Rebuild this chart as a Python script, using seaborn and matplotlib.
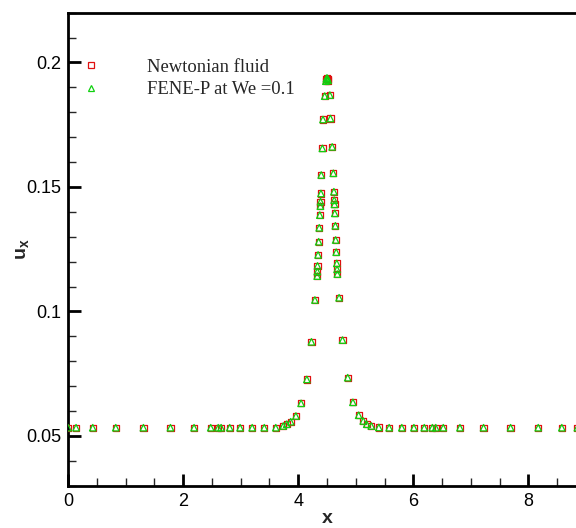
import numpy as np
import pandas as pd
import matplotlib
matplotlib.use("Agg")
import matplotlib.pyplot as plt
from matplotlib.lines import Line2D
from matplotlib.ticker import MultipleLocator
import seaborn as sns

# ---- data ----
x_newt = [0.00, 0.14, 0.43, 0.83, 1.31, 1.78, 2.19, 2.48, 2.61, 2.66, 2.81, 2.99,
          3.20, 3.41, 3.61, 3.74, 3.80, 3.87, 3.96, 4.05, 4.15, 4.23, 4.29,
          4.330, 4.332, 4.335, 4.345, 4.355, 4.365, 4.375, 4.385, 4.388, 4.395,
          4.40, 4.42, 4.43, 4.46, 4.48, 4.49, 4.50, 4.51, 4.52,
          4.55, 4.56, 4.59, 4.61, 4.62, 4.625, 4.63, 4.635, 4.645, 4.65, 4.66,
          4.67, 4.675, 4.68, 4.71, 4.77, 4.86, 4.95, 5.05, 5.13, 5.19, 5.27,
          5.40, 5.58, 5.80, 6.01, 6.19, 6.33, 6.39, 6.52, 6.81, 7.22, 7.69,
          8.17, 8.58, 8.85]
u_newt = [0.0533, 0.0533, 0.0533, 0.0533, 0.0533, 0.0533, 0.0533, 0.0533, 0.0533,
          0.0533, 0.0533, 0.0533, 0.0533, 0.0533, 0.0533, 0.0540, 0.0547, 0.0557,
          0.0580, 0.0631, 0.0727, 0.0878, 0.1046,
          0.1142, 0.1160, 0.1183, 0.1227, 0.1280, 0.1336, 0.1387, 0.1423, 0.1441,
          0.1474, 0.1548, 0.1655, 0.1771, 0.1865, 0.1925, 0.1935, 0.1938, 0.1935,
          0.1928,
          0.1869, 0.1775, 0.1661, 0.1555, 0.1481, 0.1447, 0.1430, 0.1394, 0.1344,
          0.1287, 0.1238, 0.1193, 0.1169, 0.1150, 0.1055, 0.0885, 0.0734, 0.0635,
          0.0583, 0.0560, 0.0547, 0.0540, 0.0534, 0.0533, 0.0533, 0.0533, 0.0533,
          0.0533, 0.0533, 0.0533, 0.0533, 0.0533, 0.0533, 0.0533, 0.0533, 0.0533]
x_fene = list(x_newt)
u_fene = list(u_newt)

labels = ["Newtonian fluid", "FENE-P at We =0.1"]
x_ticks = [0, 2, 4, 6, 8]
y_ticks = [0.05, 0.1, 0.15, 0.2]
y_tick_labels = ["0.05", "0.1", "0.15", "0.2"]

df_n = pd.DataFrame({"x": x_newt, "u": u_newt})
df_f = pd.DataFrame({"x": x_fene, "u": u_fene})

sns.set_theme(style="ticks")
plt.rcParams["font.family"] = ["Liberation Sans", "DejaVu Sans"]
plt.rcParams["mathtext.fontset"] = "custom"
plt.rcParams["mathtext.bf"] = "Liberation Sans:bold"
plt.rcParams["mathtext.rm"] = "Liberation Sans"
plt.rcParams["mathtext.it"] = "Liberation Sans:italic"

fig = plt.figure(figsize=(5.76, 5.28), dpi=100)
ax = fig.add_axes([68/576, 1 - 485.7/528, 518/576, (485.7 - 12.7)/528])

red = "#e01010"
green = "#10d010"
sns.scatterplot(data=df_n, x="x", y="u", marker="s", s=20, fc="none",
                ec=red, linewidth=0.9, ax=ax, zorder=3)
sns.scatterplot(data=df_f, x="x", y="u", marker="^", s=22, fc="none",
                ec=green, linewidth=0.9, ax=ax, zorder=4)

ax.set_xlim(0, 9)
ax.set_ylim(0.03, 0.22)
ax.set_xticks(x_ticks)
ax.set_xticklabels([str(t) for t in x_ticks])
ax.set_yticks(y_ticks)
ax.set_yticklabels(y_tick_labels)
ax.xaxis.set_minor_locator(MultipleLocator(0.5))
ax.yaxis.set_minor_locator(MultipleLocator(0.01))
ax.tick_params(which="major", direction="in", length=9, width=2, labelsize=13,
               pad=5, colors="black", top=False, right=False)
ax.tick_params(which="minor", direction="in", length=5.5, width=1, top=False, right=False)
for s in ["left", "bottom", "top", "right"]:
    ax.spines[s].set_linewidth(2)
    ax.spines[s].set_color("black")

ax.set_xlabel(r"$\mathbf{x}$", fontsize=14, labelpad=0)
ax.set_ylabel(r"$\mathbf{u_x}$", fontsize=14, labelpad=-4)

handles = [
    Line2D([], [], linestyle="", marker="s", markersize=4.4, mfc="none", mec=red, mew=0.9),
    Line2D([], [], linestyle="", marker="^", markersize=4.8, mfc="none", mec=green, mew=0.9),
]
leg = ax.legend(handles, labels, loc="upper left",
                bbox_to_anchor=(72.4/576, 1 - 58.5/528), bbox_transform=fig.transFigure,
                frameon=False, borderpad=0, borderaxespad=0, handlelength=2.0,
                handletextpad=2.0, labelspacing=0.3,
                prop={"family": "Liberation Serif", "size": 13.4})

fig.savefig("out.png", dpi=100)
